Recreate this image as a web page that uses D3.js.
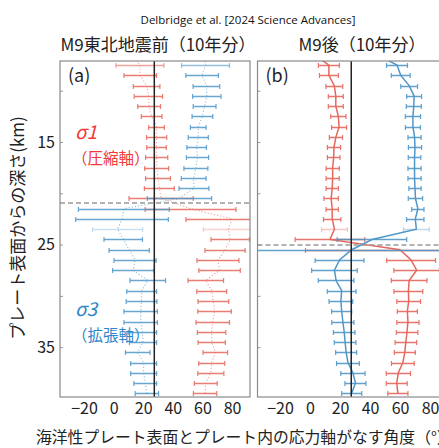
<!DOCTYPE html>
<html><head><meta charset="utf-8">
<script src="https://cdn.jsdelivr.net/npm/d3@7"></script>
<style>body{margin:0;background:#fff}svg{display:block}</style>
</head><body>
<svg id="c" width="439" height="448"></svg>
<script>
// depth rows (km, bin centres)
const depths = [6.5,7.5,8.5,9.5,10.5,11.5,12.5,13.5,14.5,15.5,16.5,17.5,18.5,19.5,20.5,21.5,22.5,23.5,24.5,25.5,26.5,27.5,28.5,29.5,30.5,31.5,32.5,33.5,34.5,35.5,36.5,37.5,38.5,39.5];
// panel (a): before M9
const a_s1  = [13,17.8,18,22.3,23.5,24,25.7,29,29.1,29,29.1,29.1,30,30.9,32.1,52,80.2,77.5,78.8,75.3,70.5,71.6,62.3,66.3,67.4,68.2,67,66.2,66.3,68.7,66.3,65.7,62.3,61.8];
const a_s3  = [62,62.1,59.8,62.7,63,61.5,60,57.2,57.2,56.1,56.7,55.6,54.1,54.3,44.5,6.9,5.7,2.7,6.5,10.5,14.5,13.3,23.1,19,18.9,18.3,18.3,19.5,19.9,16.3,20.3,20.3,21.4,22.5];
const a_err = [15,16.2,11,9,9.6,7.7,7,5.3,6.8,6.6,7.5,8.1,8.4,10.1,21.7,30.7,31.3,16.9,13,13.6,14.2,14,12,10.1,10.4,11.3,11.3,9.6,9.2,8.3,8.8,8.8,7.7,7.9];
const a_alpha = [1,0.7,1,1,1,1,1,1,1,1,1,1,1,1,1,1,1,0.35,1,1,1,1,1,1,1,1,1,1,1,1,1,1,1,1];
// panel (b): after M9
const b_s1  = [3,12.6,12.6,16.2,17.2,17.2,18.9,19.4,17.3,16,15.8,15.1,15.1,14.8,14.1,14.8,14.8,16.3,13.3,60,67.4,71.1,66.1,65.6,65.8,64.9,65.3,64.7,63.9,63.2,61.9,58.9,57.8,58.6];
const b_s3  = [45,58,60.5,66.1,69.4,69.2,68.6,68.6,69.7,70,69.7,69.7,69.7,70,70.3,71.9,70.2,70.9,41.3,27.8,19.7,16.3,17.4,21.1,20.6,21.1,21.9,22.8,23.4,24.1,25.3,28.6,30.3,27.8];
const b_err = [7,7,6.3,5.6,5,5,5.1,5,4.4,4.4,4.2,4.4,4.4,4.1,4.8,4.1,5.8,8.6,23.2,63,16.3,15.2,11.9,9.6,7.9,6.7,7.4,7.2,7.2,7,7.6,8.1,7,6.7];
const b_alpha = [1,1,1,1,1,1,1,1,1,1,1,1,1,1,1,1,1,0.4,1,1,1,1,1,1,1,1,1,1,1,1,1,1,1,1];
const slabDip = 27.5;
const neutralA = 20.95, neutralB = 25.03;
const xTicks = [-20,0,20,40,60,80];
const yTicks = [10,15,20,25,30,35];
const yLabels = [15,25,35];

const RED = "#e5675c", BLUE = "#4f97c9";
const svg = d3.select("#c");
const jp = "'Noto Sans CJK JP', 'Noto Sans', sans-serif";

const y = d3.scaleLinear().domain([7.1, 39.86]).range([61, 397]);
const panels = [
  {id:"a", x0:60, x1:250, x: d3.scaleLinear().domain([-20,80]).range([84,232]), s1:a_s1, s3:a_s3, err:a_err, alpha:a_alpha, dotted:true, neutral:neutralA, label:"(a)"},
  {id:"b", x0:257.5, x1:452, x: d3.scaleLinear().domain([-20,80]).range([280,430]), s1:b_s1, s3:b_s3, err:b_err, alpha:b_alpha, dotted:false, neutral:neutralB, label:"(b)"}
];

panels.forEach(p => {
  const clipId = "clip-" + p.id;
  svg.append("clipPath").attr("id", clipId).append("rect")
    .attr("x", p.x0).attr("y", 61).attr("width", p.x1 - p.x0).attr("height", 336);
  const g = svg.append("g").attr("clip-path", `url(#${clipId})`);

  const yAx = d3.axisRight(y).tickValues(yTicks).tickSize(3).tickFormat("");
  const ya = svg.append("g").attr("transform", `translate(${p.x0},0)`).call(yAx);
  ya.select(".domain").remove();
  ya.selectAll("line").attr("stroke", "#999");

  const xAx = d3.axisBottom(p.x).tickValues(xTicks).tickSize(0).tickPadding(6).tickFormat(d3.format("d"));
  const xa = svg.append("g").attr("transform", `translate(0,397)`).call(xAx);
  xa.select(".domain").remove();
  xa.selectAll("text").attr("font-family", jp).attr("font-size", 16).attr("fill", "#222");

  const series = [
    {vals:p.s1, col:RED},
    {vals:p.s3, col:BLUE}
  ];
  const cap = 2.5;
  series.forEach(s => {
    const line = d3.line().x((d,i)=>p.x(s.vals[i])).y((d)=>y(d));
    g.append("path").datum(depths).attr("d", line)
      .attr("fill","none").attr("stroke", s.col)
      .attr("stroke-width", p.dotted ? 1.1 : 1.5)
      .attr("stroke-dasharray", p.dotted ? "1.2,2" : null)
      .attr("stroke-opacity", p.dotted ? 0.6 : 1);
  });
  series.forEach(s => {
    const bg = g.append("g").attr("stroke", s.col);
    depths.forEach((d,i) => {
      const lo = p.x(s.vals[i] - p.err[i]), hi = p.x(s.vals[i] + p.err[i]), yy = Math.round(y(d)) + 0.5;
      const gg = bg.append("g").attr("stroke-opacity", p.alpha[i] * (p.dotted ? 0.85 : 0.9));
      gg.append("line").attr("x1", lo).attr("x2", hi).attr("y1", yy).attr("y2", yy).attr("stroke-width", 1.5);
      gg.append("line").attr("x1", lo).attr("x2", lo).attr("y1", yy-cap).attr("y2", yy+cap).attr("stroke-width", 1.2);
      gg.append("line").attr("x1", hi).attr("x2", hi).attr("y1", yy-cap).attr("y2", yy+cap).attr("stroke-width", 1.2);
    });
  });
  g.append("line").attr("x1", p.x(slabDip)).attr("x2", p.x(slabDip)).attr("y1", 61).attr("y2", 397)
    .attr("stroke", "#222").attr("stroke-width", 1.5);
  g.append("line").attr("x1", p.x0).attr("x2", p.x1).attr("y1", y(p.neutral)).attr("y2", y(p.neutral))
    .attr("stroke", "#999").attr("stroke-width", 1.5).attr("stroke-dasharray", "5,3");

  svg.append("rect").attr("x", p.x0).attr("y", 61).attr("width", p.x1 - p.x0).attr("height", 336)
    .attr("fill", "none").attr("stroke", "#8a8a8a").attr("stroke-width", 1.2);
  svg.append("text").attr("x", p.x0 + 8).attr("y", 82).text(p.label)
    .attr("font-family", jp).attr("font-size", 18).attr("fill", "#222");
});

svg.append("g").selectAll("text").data(yLabels).join("text")
  .attr("x", 55).attr("y", d => y(d)).attr("dy", "0.35em").attr("text-anchor", "end")
  .attr("font-family", jp).attr("font-size", 16).attr("fill", "#222").text(d => d);

svg.append("text").attr("x", 248).attr("y", 24).attr("text-anchor", "middle")
  .attr("font-family", "'Open Sans', sans-serif").attr("font-size", 11.5).attr("fill", "#111")
  .text("Delbridge et al. [2024 Science Advances]");
svg.append("text").attr("x", 158).attr("y", 51).attr("text-anchor", "middle")
  .attr("font-family", jp).attr("font-size", 17).attr("fill", "#222").text("M9東北地震前（10年分）");
svg.append("text").attr("x", 362).attr("y", 51).attr("text-anchor", "middle")
  .attr("font-family", jp).attr("font-size", 17).attr("fill", "#222").text("M9後（10年分）");

svg.append("text").attr("x", 75).attr("y", 139).attr("font-family", jp).attr("font-style","italic")
  .attr("font-size", 19).attr("fill", "#f03a3a").text("σ1");
svg.append("text").attr("x", 72).attr("y", 164).attr("font-family", jp)
  .attr("font-size", 15.5).attr("fill", "#f03a3a").text("（圧縮軸）");
svg.append("text").attr("x", 75).attr("y", 316).attr("font-family", jp).attr("font-style","italic")
  .attr("font-size", 19).attr("fill", "#2f86c8").text("σ3");
svg.append("text").attr("x", 72).attr("y", 341).attr("font-family", jp)
  .attr("font-size", 15.5).attr("fill", "#2f86c8").text("（拡張軸）");

svg.append("text").attr("transform", "translate(24,228) rotate(-90)").attr("text-anchor", "middle")
  .attr("font-family", jp).attr("font-size", 17).attr("fill", "#222").text("プレート表面からの深さ(km)");
svg.append("text").attr("x", 36).attr("y", 443)
  .attr("font-family", jp).attr("font-size", 15.8).attr("fill", "#222").text("海洋性プレート表面とプレート内の応力軸がなす角度（°）");
</script>
</body></html>
